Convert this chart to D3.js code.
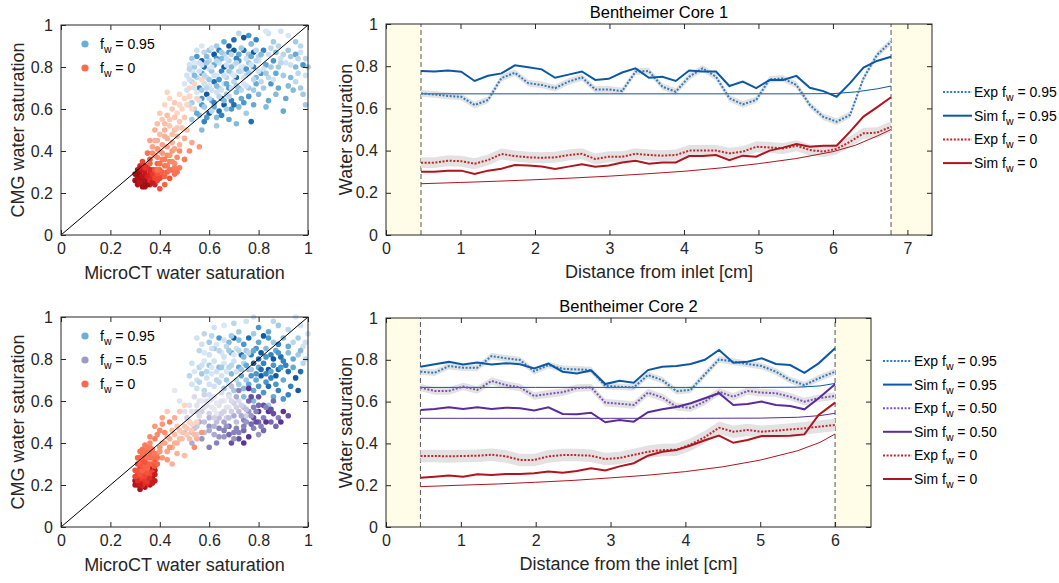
<!DOCTYPE html>
<html>
<head>
<meta charset="utf-8">
<script src="https://cdn.jsdelivr.net/npm/d3@7"></script>
<style>
body { margin: 0; background: #fff; }
svg { font-family: "Liberation Sans", Arial, Helvetica, sans-serif; }
</style>
</head>
<body>
<svg id="fig" width="1059" height="583"></svg>
<script>
// ---- scatter data: [microCT Sw, CMG Sw, shade 0..1] ----
var core1Blue = [
 [0.76,0.95,0.6],[0.84,0.96,0.1],[0.89,0.97,0.1],[0.72,0.96,0.2],[0.83,0.97,0.05],
 [0.63,0.9,0.3],[0.66,0.92,0.5],[0.7,0.93,0.8],[0.74,0.94,0.9],[0.79,0.93,0.7],[0.86,0.92,0.3],[0.88,0.9,0.2],[0.95,0.92,0.3],[0.68,0.9,0.9],[0.77,0.91,0.4],
 [0.55,0.85,0.6],[0.58,0.87,0.2],[0.6,0.88,0.3],[0.62,0.86,0.9],[0.64,0.88,0.7],[0.66,0.86,0.2],[0.68,0.87,0.6],[0.7,0.88,0.9],[0.72,0.86,0.5],[0.74,0.88,0.8],
 [0.76,0.86,0.3],[0.78,0.87,0.9],[0.8,0.85,0.2],[0.82,0.88,0.7],[0.84,0.86,0.1],[0.87,0.87,0.4],[0.9,0.86,0.2],[0.93,0.85,0.3],[0.97,0.87,0.1],[0.99,0.84,0.2],[0.57,0.83,0.9],
 [0.52,0.81,0.1],[0.54,0.8,0.3],[0.56,0.82,0.1],[0.58,0.8,0.8],[0.6,0.83,0.2],[0.62,0.81,0.5],[0.64,0.82,0.1],[0.66,0.8,0.9],[0.68,0.83,0.2],[0.7,0.81,0.05],
 [0.72,0.83,0.6],[0.74,0.8,0.1],[0.76,0.82,0.3],[0.78,0.8,0.7],[0.8,0.83,0.1],[0.83,0.81,0.5],[0.86,0.83,0.6],[0.88,0.8,0.3],[0.91,0.82,0.1],[0.95,0.8,0.4],[0.98,0.81,0.6],[0.6,0.79,0.1],[0.65,0.84,0.4],
 [0.51,0.76,0.1],[0.53,0.78,0.05],[0.55,0.75,0.2],[0.57,0.77,0.6],[0.59,0.75,0.1],[0.61,0.78,0.3],[0.63,0.76,0.05],[0.65,0.78,0.7],[0.67,0.75,0.2],[0.69,0.77,0.05],
 [0.71,0.75,0.8],[0.73,0.78,0.1],[0.75,0.76,0.2],[0.77,0.78,0.05],[0.79,0.75,0.4],[0.81,0.77,0.6],[0.84,0.75,0.2],[0.87,0.77,0.5],[0.9,0.76,0.3],[0.93,0.75,0.4],[0.96,0.77,0.2],[0.99,0.76,0.1],
 [0.5,0.72,0.05],[0.53,0.73,0.2],[0.56,0.7,0.7],[0.58,0.72,0.1],[0.6,0.71,0.05],[0.62,0.73,0.8],[0.64,0.7,0.2],[0.66,0.72,0.1],[0.68,0.7,0.6],[0.7,0.73,0.2],
 [0.72,0.7,0.4],[0.74,0.72,0.05],[0.76,0.7,0.3],[0.79,0.72,0.5],[0.82,0.7,0.3],[0.85,0.72,0.6],[0.88,0.7,0.5],[0.92,0.71,0.4],[0.97,0.7,0.3],
 [0.52,0.66,0.2],[0.55,0.68,0.05],[0.57,0.65,0.6],[0.59,0.67,0.9],[0.61,0.64,0.5],[0.63,0.68,0.1],[0.65,0.65,0.9],[0.67,0.67,0.3],[0.69,0.64,0.7],[0.71,0.68,0.4],
 [0.73,0.65,0.5],[0.76,0.66,0.6],[0.8,0.67,0.4],[0.84,0.64,0.5],[0.87,0.67,0.4],[0.91,0.65,0.5],[0.98,0.67,0.3],
 [0.54,0.6,0.2],[0.57,0.62,0.6],[0.6,0.58,0.9],[0.62,0.61,0.5],[0.64,0.59,0.8],[0.66,0.62,0.9],[0.69,0.6,0.6],[0.72,0.61,0.4],[0.75,0.58,0.3],[0.78,0.62,0.5],
 [0.83,0.61,0.4],[0.9,0.59,0.5],[0.99,0.62,0.3],[0.56,0.57,0.4],
 [0.53,0.55,0.3],[0.58,0.54,0.7],[0.63,0.56,0.4],[0.68,0.55,0.5],[0.71,0.53,0.4],[0.77,0.54,0.8],[0.63,0.52,0.3],[0.57,0.5,0.4],
 [0.95,0.86,0.5],[0.97,0.9,0.2],[1.0,0.8,0.3],[0.92,0.95,0.05],
 [0.53,0.84,0.3],[0.55,0.88,0.1],[0.57,0.9,0.05],[0.59,0.85,0.4],[0.61,0.89,0.1],[0.63,0.84,0.6],[0.65,0.87,0.3],[0.67,0.84,0.1],[0.69,0.86,0.2],[0.71,0.84,0.7],
 [0.73,0.89,0.3],[0.75,0.84,0.1],[0.77,0.85,0.5],[0.79,0.88,0.2],[0.81,0.86,0.4],[0.85,0.89,0.2],[0.89,0.84,0.1],[0.92,0.88,0.3],[0.96,0.84,0.2],
 [0.52,0.79,0.2],[0.54,0.82,0.05],[0.57,0.81,0.1],[0.59,0.82,0.3],[0.61,0.8,0.05],[0.63,0.83,0.2],[0.67,0.81,0.1],[0.69,0.8,0.4],[0.71,0.82,0.2],[0.73,0.8,0.05],
 [0.75,0.79,0.6],[0.77,0.81,0.1],[0.79,0.83,0.2],[0.82,0.79,0.1],[0.85,0.8,0.3],[0.89,0.82,0.2],[0.93,0.81,0.1],
 [0.52,0.74,0.1],[0.54,0.76,0.4],[0.56,0.78,0.1],[0.58,0.76,0.2],[0.6,0.74,0.3],[0.62,0.76,0.1],[0.64,0.74,0.6],[0.66,0.76,0.1],[0.68,0.78,0.3],[0.7,0.76,0.05],
 [0.72,0.78,0.2],[0.74,0.75,0.1],[0.76,0.77,0.3],[0.78,0.74,0.2],[0.8,0.78,0.1],[0.83,0.77,0.3],[0.86,0.74,0.1],[0.95,0.73,0.2],
 [0.51,0.69,0.1],[0.54,0.7,0.05],[0.57,0.69,0.3],[0.59,0.7,0.2],[0.61,0.69,0.1],[0.63,0.71,0.4],[0.65,0.69,0.1],[0.67,0.72,0.5],[0.69,0.7,0.1],[0.71,0.71,0.3],
 [0.73,0.69,0.2],[0.75,0.71,0.1],[0.78,0.69,0.3],[0.81,0.73,0.2],[0.94,0.69,0.4],
 [0.53,0.63,0.3],[0.56,0.64,0.1],[0.58,0.61,0.3],[0.6,0.65,0.2],[0.62,0.63,0.7],[0.64,0.66,0.2],[0.66,0.64,0.4],[0.68,0.66,0.2],[0.7,0.62,0.8],[0.74,0.63,0.6],
 [0.55,0.58,0.5],[0.59,0.56,0.6],[0.61,0.59,0.2],[0.65,0.57,0.7],[0.67,0.6,0.3],[0.52,0.62,0.2]
];
var core1Red = [
 [0.3,0.26,0.95],[0.31,0.24,0.9],[0.32,0.27,0.95],[0.32,0.3,0.9],[0.33,0.25,0.95],[0.33,0.28,0.85],[0.34,0.23,0.9],[0.34,0.3,0.8],[0.35,0.26,0.85],[0.35,0.32,0.7],
 [0.36,0.24,0.8],[0.36,0.29,0.75],[0.37,0.27,0.7],[0.31,0.31,0.85],[0.3,0.29,0.9],[0.32,0.33,0.7],[0.38,0.24,0.75],[0.37,0.31,0.6],[0.33,0.35,0.6],[0.34,0.33,0.75],
 [0.38,0.29,0.55],[0.39,0.26,0.6],[0.4,0.31,0.5],[0.41,0.28,0.55],[0.42,0.33,0.45],[0.43,0.3,0.5],[0.44,0.27,0.55],[0.45,0.31,0.45],[0.39,0.34,0.5],[0.41,0.36,0.4],
 [0.36,0.36,0.55],[0.38,0.38,0.4],[0.44,0.35,0.4],[0.46,0.34,0.35],[0.43,0.38,0.35],[0.47,0.37,0.35],[0.4,0.4,0.3],[0.45,0.4,0.3],[0.48,0.4,0.35],[0.35,0.39,0.45],
 [0.42,0.24,0.5],[0.46,0.29,0.45],[0.48,0.32,0.4],[0.4,0.22,0.55],[0.5,0.36,0.4],[0.52,0.4,0.35],
 [0.37,0.42,0.25],[0.39,0.45,0.2],[0.41,0.43,0.25],[0.43,0.46,0.2],[0.45,0.44,0.2],[0.47,0.47,0.15],[0.4,0.48,0.15],[0.42,0.5,0.2],[0.44,0.52,0.1],[0.46,0.5,0.15],
 [0.48,0.54,0.1],[0.38,0.5,0.2],[0.41,0.55,0.1],[0.43,0.57,0.15],[0.45,0.6,0.1],[0.47,0.58,0.05],[0.49,0.6,0.05],[0.5,0.56,0.1],[0.4,0.58,0.1],[0.42,0.62,0.05],
 [0.44,0.65,0.05],[0.46,0.63,0.1],[0.48,0.67,0.05],[0.5,0.65,0.05],[0.52,0.7,0.05],[0.54,0.72,0.05],[0.51,0.5,0.15],[0.53,0.6,0.05],[0.55,0.65,0.05],[0.57,0.74,0.05],
 [0.5,0.46,0.2],[0.53,0.44,0.25],[0.36,0.45,0.25],[0.43,0.68,0.05],[0.56,0.42,0.3],
 [0.31,0.27,0.9],[0.31,0.29,0.95],[0.32,0.25,0.85],[0.33,0.23,0.95],[0.33,0.31,0.8],[0.34,0.26,0.9],[0.34,0.28,0.85],[0.35,0.24,0.95],[0.35,0.28,0.75],[0.36,0.26,0.7],
 [0.36,0.31,0.7],[0.37,0.25,0.8],[0.37,0.29,0.65],[0.38,0.27,0.6],[0.38,0.31,0.55],[0.39,0.29,0.55],[0.39,0.31,0.45],[0.32,0.32,0.8],[0.34,0.32,0.65],[0.36,0.34,0.5],
 [0.4,0.27,0.6],[0.4,0.34,0.45],[0.41,0.3,0.5],[0.42,0.28,0.5],[0.42,0.36,0.4],[0.43,0.33,0.4],[0.44,0.31,0.45],[0.44,0.38,0.3],[0.45,0.35,0.35],[0.46,0.32,0.4],
 [0.47,0.3,0.45],[0.39,0.37,0.35],[0.37,0.39,0.35],[0.41,0.39,0.3],[0.43,0.42,0.25],[0.46,0.41,0.25],[0.48,0.43,0.2],[0.39,0.41,0.3],[0.38,0.45,0.2],[0.42,0.47,0.2],
 [0.45,0.48,0.15],[0.47,0.51,0.1],[0.44,0.55,0.1],[0.46,0.56,0.1],[0.48,0.62,0.05],[0.51,0.62,0.05],[0.39,0.53,0.15],[0.42,0.53,0.15],[0.49,0.51,0.1],[0.52,0.66,0.05]
];
var core2Blue = [
 [0.55,0.9,0.1],[0.58,0.92,0.2],[0.62,0.95,0.1],[0.66,0.96,0.05],[0.7,0.97,0.2],[0.75,0.98,0.1],[0.78,1.0,0.1],[0.86,0.98,0.2],[0.95,1.0,0.05],[0.72,0.93,0.3],
 [0.8,0.95,0.6],[0.84,0.93,0.5],[0.88,0.96,0.3],[0.92,0.94,0.2],[0.97,0.96,0.1],[1.0,0.92,0.1],
 [0.6,0.88,0.3],[0.64,0.9,0.6],[0.68,0.88,0.4],[0.7,0.9,0.9],[0.74,0.87,0.6],[0.76,0.9,0.8],[0.8,0.88,0.5],[0.82,0.91,0.9],[0.86,0.88,0.3],[0.9,0.9,0.4],[0.94,0.88,0.2],[0.98,0.86,0.1],
 [0.56,0.84,0.2],[0.6,0.82,0.1],[0.62,0.85,0.3],[0.65,0.83,0.05],[0.67,0.86,0.2],[0.69,0.83,0.5],[0.71,0.85,0.1],[0.73,0.82,0.8],[0.75,0.84,0.3],[0.77,0.82,0.7],
 [0.79,0.85,0.6],[0.81,0.83,0.9],[0.83,0.85,0.4],[0.85,0.82,0.7],[0.87,0.84,0.5],[0.89,0.81,0.8],[0.92,0.83,0.4],[0.96,0.82,0.3],[0.99,0.8,0.2],
 [0.53,0.78,0.1],[0.56,0.76,0.2],[0.58,0.79,0.05],[0.6,0.77,0.3],[0.62,0.79,0.1],[0.64,0.76,0.4],[0.66,0.78,0.05],[0.68,0.76,0.2],[0.7,0.79,0.1],[0.72,0.76,0.5],
 [0.74,0.78,0.2],[0.76,0.75,0.4],[0.78,0.78,0.9],[0.8,0.76,0.5],[0.82,0.78,0.7],[0.84,0.75,0.9],[0.86,0.77,0.6],[0.88,0.75,0.8],[0.91,0.77,0.7],[0.94,0.76,0.5],[0.97,0.74,0.8],
 [0.52,0.72,0.2],[0.55,0.7,0.1],[0.57,0.73,0.3],[0.59,0.71,0.1],[0.61,0.73,0.05],[0.63,0.7,0.2],[0.65,0.72,0.1],[0.67,0.7,0.3],[0.69,0.73,0.4],[0.71,0.7,0.2],
 [0.73,0.72,0.5],[0.75,0.7,0.3],[0.77,0.72,0.6],[0.79,0.7,0.5],[0.81,0.72,0.9],[0.83,0.69,0.6],[0.85,0.71,0.7],[0.87,0.68,0.6],[0.9,0.7,0.5],[0.93,0.67,0.7],[0.95,0.71,0.9],
 [0.55,0.66,0.1],[0.58,0.65,0.2],[0.62,0.67,0.1],[0.66,0.66,0.3],[0.7,0.65,0.3],[0.74,0.66,0.4],[0.78,0.65,0.5],[0.82,0.64,0.6],[0.86,0.62,0.5],[0.9,0.61,0.6],
 [0.92,0.63,0.7],[0.78,0.6,0.4],[0.84,0.58,0.3],[0.99,0.88,0.1],[0.98,0.78,0.2],[0.96,0.9,0.3],
 [0.57,0.87,0.1],[0.61,0.91,0.2],[0.63,0.87,0.05],[0.66,0.89,0.1],[0.69,0.91,0.3],[0.72,0.89,0.4],[0.78,0.92,0.3],[0.84,0.9,0.6],[0.88,0.87,0.7],[0.92,0.86,0.5],
 [0.58,0.83,0.05],[0.61,0.85,0.1],[0.64,0.84,0.2],[0.66,0.81,0.1],[0.68,0.84,0.3],[0.7,0.82,0.05],[0.72,0.84,0.2],[0.74,0.81,0.4],[0.76,0.83,0.2],[0.78,0.84,0.5],
 [0.8,0.8,0.8],[0.83,0.81,0.6],[0.86,0.8,0.9],[0.88,0.83,0.6],[0.9,0.79,0.7],[0.94,0.8,0.5],[0.97,0.84,0.4],
 [0.54,0.74,0.05],[0.57,0.77,0.1],[0.59,0.74,0.2],[0.61,0.76,0.05],[0.63,0.74,0.1],[0.65,0.76,0.3],[0.67,0.74,0.05],[0.69,0.77,0.2],[0.71,0.74,0.1],
 [0.73,0.75,0.3],[0.75,0.77,0.5],[0.77,0.75,0.3],[0.79,0.73,0.6],[0.81,0.75,0.8],[0.83,0.73,0.7],[0.85,0.74,0.5],[0.87,0.72,0.9],[0.89,0.76,0.6],[0.92,0.74,0.8],
 [0.56,0.69,0.2],[0.6,0.68,0.1],[0.64,0.69,0.2],[0.68,0.68,0.1],[0.72,0.68,0.3],[0.76,0.68,0.5],[0.8,0.67,0.6],[0.84,0.67,0.8],[0.88,0.65,0.7],[0.53,0.68,0.1],
 [0.6,0.63,0.1],[0.68,0.63,0.2],[0.74,0.62,0.4],[0.96,0.65,0.9]
];
var core2Purple = [
 [0.5,0.55,0.1],[0.52,0.58,0.1],[0.54,0.62,0.15],[0.55,0.55,0.2],[0.56,0.6,0.1],[0.58,0.63,0.2],[0.58,0.57,0.1],[0.6,0.6,0.05],[0.6,0.54,0.2],[0.62,0.62,0.1],
 [0.62,0.56,0.05],[0.64,0.58,0.1],[0.64,0.52,0.3],[0.66,0.6,0.05],[0.66,0.55,0.2],[0.68,0.62,0.1],[0.68,0.57,0.05],[0.7,0.59,0.2],[0.7,0.53,0.4],[0.72,0.6,0.15],
 [0.72,0.55,0.3],[0.74,0.57,0.3],[0.74,0.51,0.6],[0.76,0.55,0.5],[0.76,0.6,0.7],[0.78,0.52,0.8],[0.78,0.57,0.6],[0.8,0.55,0.9],[0.8,0.5,0.7],[0.82,0.58,0.8],
 [0.82,0.52,0.6],[0.84,0.55,0.9],[0.85,0.5,0.7],[0.88,0.52,0.6],[0.9,0.55,0.9],[0.92,0.53,0.8],[0.86,0.6,0.7],[0.8,0.62,0.8],[0.76,0.66,0.9],[0.72,0.65,0.6],
 [0.52,0.5,0.2],[0.54,0.47,0.3],[0.56,0.5,0.4],[0.58,0.45,0.3],[0.6,0.48,0.5],[0.62,0.44,0.4],[0.64,0.47,0.6],[0.66,0.43,0.5],[0.68,0.48,0.7],[0.7,0.45,0.6],
 [0.72,0.42,0.8],[0.74,0.46,0.7],[0.76,0.43,0.9],[0.78,0.47,0.6],[0.8,0.44,0.5],[0.57,0.42,0.5],[0.63,0.4,0.6],[0.69,0.4,0.8],[0.74,0.4,0.9],[0.82,0.46,0.7],
 [0.55,0.44,0.2],[0.6,0.52,0.35],[0.66,0.5,0.45],[0.71,0.5,0.3],[0.63,0.54,0.05],[0.67,0.52,0.2],[0.75,0.53,0.2],[0.59,0.6,0.1],[0.65,0.64,0.15],[0.69,0.67,0.3],
 [0.48,0.6,0.1],[0.46,0.65,0.05],[0.5,0.45,0.3],[0.53,0.4,0.4],[0.6,0.38,0.6],
 [0.51,0.52,0.2],[0.53,0.55,0.1],[0.55,0.58,0.1],[0.57,0.55,0.2],[0.57,0.6,0.05],[0.59,0.58,0.1],[0.61,0.57,0.05],[0.61,0.61,0.1],[0.63,0.59,0.05],[0.63,0.5,0.3],
 [0.65,0.54,0.2],[0.65,0.6,0.1],[0.67,0.57,0.1],[0.67,0.48,0.5],[0.69,0.55,0.2],[0.69,0.6,0.15],[0.71,0.57,0.2],[0.71,0.47,0.6],[0.73,0.53,0.4],[0.73,0.58,0.2],
 [0.75,0.5,0.5],[0.75,0.56,0.3],[0.77,0.49,0.7],[0.77,0.53,0.5],[0.79,0.55,0.6],[0.79,0.5,0.8],[0.81,0.48,0.6],[0.83,0.5,0.9],[0.83,0.57,0.6],[0.86,0.54,0.8],
 [0.87,0.48,0.7],[0.89,0.5,0.9],[0.58,0.5,0.3],[0.6,0.46,0.4],[0.62,0.48,0.35],[0.64,0.43,0.5],[0.66,0.46,0.6],[0.68,0.44,0.7],[0.7,0.42,0.5],[0.72,0.45,0.6],
 [0.55,0.48,0.25],[0.53,0.45,0.3],[0.56,0.53,0.15],[0.62,0.52,0.2],[0.68,0.52,0.3],[0.74,0.48,0.6],[0.8,0.58,0.7],[0.77,0.62,0.8],[0.71,0.62,0.4],[0.85,0.56,0.8]
];
var core2Red = [
 [0.3,0.22,0.9],[0.31,0.2,0.95],[0.32,0.18,0.9],[0.33,0.22,0.85],[0.34,0.19,0.9],[0.35,0.24,0.8],[0.36,0.2,0.85],[0.37,0.23,0.9],[0.38,0.27,0.85],[0.36,0.28,0.8],
 [0.31,0.25,0.6],[0.32,0.28,0.6],[0.33,0.25,0.55],[0.34,0.27,0.6],[0.35,0.3,0.55],[0.33,0.31,0.55],[0.31,0.3,0.6],[0.32,0.33,0.5],[0.34,0.34,0.45],[0.36,0.33,0.5],
 [0.35,0.36,0.45],[0.33,0.37,0.45],[0.34,0.39,0.4],[0.36,0.38,0.4],[0.37,0.35,0.5],[0.38,0.32,0.55],[0.32,0.23,0.6],[0.34,0.22,0.65],[0.36,0.25,0.6],[0.3,0.27,0.55],
 [0.35,0.21,0.7],[0.33,0.2,0.7],[0.37,0.3,0.5],[0.3,0.2,0.85],[0.38,0.22,0.8],
 [0.39,0.35,0.35],[0.4,0.38,0.3],[0.41,0.33,0.3],[0.42,0.4,0.25],[0.43,0.36,0.25],[0.44,0.42,0.2],[0.45,0.38,0.2],[0.46,0.44,0.15],[0.47,0.4,0.2],[0.48,0.46,0.1],
 [0.49,0.42,0.15],[0.5,0.48,0.1],[0.51,0.44,0.1],[0.52,0.5,0.05],[0.53,0.46,0.1],[0.55,0.5,0.05],[0.42,0.45,0.35],[0.44,0.5,0.4],[0.46,0.52,0.2],[0.48,0.55,0.1],
 [0.5,0.58,0.05],[0.4,0.46,0.35],[0.38,0.42,0.4],[0.43,0.32,0.3],[0.47,0.35,0.2],[0.55,0.42,0.2],[0.57,0.45,0.3],[0.54,0.38,0.35],[0.45,0.3,0.2],[0.5,0.34,0.15],
 [0.43,0.55,0.1],[0.38,0.48,0.3],[0.41,0.52,0.25],
 [0.31,0.22,0.7],[0.31,0.27,0.55],[0.32,0.2,0.8],[0.32,0.25,0.55],[0.32,0.3,0.5],[0.33,0.27,0.5],[0.33,0.29,0.55],[0.33,0.33,0.5],[0.34,0.24,0.6],[0.34,0.29,0.5],
 [0.34,0.31,0.55],[0.34,0.36,0.45],[0.35,0.22,0.65],[0.35,0.26,0.55],[0.35,0.28,0.5],[0.35,0.33,0.45],[0.35,0.38,0.4],[0.36,0.23,0.7],[0.36,0.3,0.5],[0.36,0.35,0.45],
 [0.37,0.21,0.8],[0.37,0.26,0.6],[0.37,0.33,0.45],[0.37,0.37,0.4],[0.38,0.25,0.8],[0.38,0.29,0.55],[0.38,0.35,0.4],[0.33,0.35,0.45],[0.32,0.36,0.45],[0.36,0.4,0.35],
 [0.3,0.24,0.6],[0.31,0.33,0.5],[0.39,0.3,0.5],[0.39,0.33,0.45],[0.4,0.36,0.3],[0.41,0.4,0.25],[0.43,0.43,0.2],[0.44,0.38,0.3],[0.46,0.4,0.2],[0.48,0.42,0.15],
 [0.49,0.45,0.1],[0.51,0.47,0.1],[0.53,0.49,0.05],[0.47,0.48,0.1],[0.45,0.46,0.15],[0.52,0.42,0.15],[0.54,0.44,0.15],[0.39,0.44,0.35],[0.36,0.43,0.35],[0.41,0.49,0.3]
];

// ---- saturation profiles ----
var core1X = [0.47,0.65,0.83,1.01,1.19,1.37,1.55,1.73,1.91,2.09,2.27,2.45,2.63,2.81,2.99,3.17,3.35,3.53,
              3.71,3.89,4.07,4.25,4.43,4.61,4.79,4.97,5.15,5.33,5.51,5.69,5.87,6.05,6.23,6.41,6.59,6.78];
var core1SimHigh = [0.777,0.775,0.78,0.774,0.73,0.755,0.766,0.804,0.795,0.785,0.745,0.76,0.775,0.735,0.74,0.77,0.79,0.745,
                    0.75,0.73,0.78,0.775,0.775,0.706,0.727,0.696,0.735,0.735,0.754,0.698,0.682,0.655,0.72,0.793,0.825,0.845];
var core1ExpHigh = [0.671,0.666,0.659,0.655,0.616,0.64,0.744,0.769,0.72,0.711,0.696,0.727,0.747,0.69,0.69,0.682,0.774,0.777,
                    0.703,0.679,0.75,0.79,0.75,0.648,0.619,0.64,0.738,0.742,0.711,0.616,0.56,0.537,0.569,0.742,0.853,0.916];
var core1ExpZero = [0.343,0.343,0.352,0.35,0.338,0.355,0.384,0.374,0.368,0.366,0.368,0.379,0.385,0.36,0.371,0.371,0.385,0.379,
                    0.376,0.379,0.40,0.40,0.40,0.387,0.395,0.418,0.415,0.41,0.423,0.403,0.395,0.408,0.442,0.482,0.485,0.513];
var core1SimZero = [0.30,0.30,0.305,0.305,0.289,0.305,0.314,0.332,0.329,0.325,0.313,0.324,0.335,0.324,0.329,0.344,0.352,0.338,
                    0.344,0.344,0.374,0.374,0.379,0.355,0.376,0.371,0.40,0.414,0.431,0.418,0.423,0.423,0.49,0.561,0.605,0.653];
var core1ModelHighX = [0.47,1,2,3,4,5,5.5,6,6.3,6.6,6.78];
var core1ModelHigh = [0.669,0.669,0.669,0.669,0.669,0.669,0.669,0.67,0.678,0.693,0.706];
var core1ModelZeroX = [0.47,1,1.5,2,2.5,3,3.5,4,4.5,5,5.5,6,6.3,6.6,6.78];
var core1ModelZero = [0.243,0.249,0.255,0.262,0.27,0.279,0.29,0.302,0.318,0.338,0.362,0.395,0.425,0.47,0.50];

var core2X = [0.46,0.65,0.84,1.03,1.22,1.41,1.6,1.79,1.98,2.17,2.36,2.55,2.74,2.93,3.12,
              3.31,3.5,3.69,3.88,4.07,4.26,4.45,4.64,4.83,5.02,5.21,5.4,5.59,5.78,6.0];
var core2SimHigh = [0.767,0.779,0.79,0.777,0.787,0.777,0.784,0.779,0.759,0.782,0.743,0.735,0.749,0.684,0.70,
                    0.69,0.751,0.767,0.77,0.78,0.80,0.847,0.786,0.791,0.807,0.78,0.775,0.738,0.783,0.855];
var core2ExpHigh = [0.743,0.738,0.77,0.762,0.762,0.818,0.807,0.799,0.745,0.775,0.757,0.754,0.751,0.675,0.671,
                    0.668,0.727,0.703,0.65,0.656,0.73,0.802,0.791,0.78,0.77,0.743,0.703,0.679,0.711,0.743];
var core2ExpHalf = [0.667,0.651,0.651,0.672,0.656,0.699,0.679,0.668,0.627,0.637,0.645,0.665,0.668,0.595,0.59,
                    0.584,0.643,0.62,0.576,0.57,0.60,0.647,0.623,0.651,0.643,0.64,0.623,0.60,0.616,0.627];
var core2SimHalf = [0.56,0.565,0.573,0.565,0.573,0.565,0.571,0.568,0.557,0.573,0.541,0.539,0.547,0.501,0.512,
                    0.504,0.549,0.563,0.574,0.592,0.616,0.64,0.584,0.589,0.60,0.584,0.579,0.563,0.616,0.683];
var core2ExpZero = [0.34,0.34,0.338,0.34,0.341,0.346,0.338,0.321,0.321,0.338,0.344,0.344,0.341,0.325,0.33,
                    0.345,0.36,0.368,0.37,0.395,0.43,0.475,0.456,0.464,0.456,0.461,0.467,0.472,0.48,0.488];
var core2SimZero = [0.236,0.241,0.246,0.241,0.252,0.249,0.254,0.254,0.257,0.266,0.26,0.268,0.281,0.27,0.29,
                    0.305,0.341,0.36,0.368,0.39,0.415,0.437,0.403,0.416,0.435,0.435,0.437,0.443,0.536,0.595];
var core2ModelHighX = [0.46,1,2,3,4,5,5.5,5.8,6.0];
var core2ModelHigh = [0.668,0.668,0.668,0.668,0.668,0.668,0.669,0.675,0.687];
var core2ModelHalfX = [0.46,1,2,3,4,5,5.5,5.8,6.0];
var core2ModelHalf = [0.52,0.52,0.52,0.52,0.52,0.521,0.525,0.533,0.544];
var core2ModelZeroX = [0.46,1,1.5,2,2.5,3,3.5,4,4.5,5,5.5,5.8,6.0];
var core2ModelZero = [0.193,0.2,0.206,0.214,0.223,0.235,0.248,0.265,0.288,0.32,0.365,0.405,0.445];

var satTicks = [0, 0.2, 0.4, 0.6, 0.8, 1];

var svg = d3.select("#fig");
var axisColor = "#262626";

function satFormat(d) { return (d === 0 || d === 1) ? String(d) : d.toFixed(1); }

function frame(g, x, y, xTicks, yTicks, xFmt, yFmt) {
    var x0 = x.range()[0], x1 = x.range()[1], y0 = y.range()[0], y1 = y.range()[1];
    g.append("g").attr("transform", "translate(0," + y0 + ")")
        .call(d3.axisBottom(x).tickValues(xTicks).tickSize(-5).tickPadding(8).tickFormat(xFmt));
    g.append("g").attr("transform", "translate(0," + y1 + ")")
        .call(d3.axisTop(x).tickValues(xTicks).tickSize(-5).tickFormat(""));
    g.append("g").attr("transform", "translate(" + x0 + ",0)")
        .call(d3.axisLeft(y).tickValues(yTicks).tickSize(-5).tickPadding(8).tickFormat(yFmt));
    g.append("g").attr("transform", "translate(" + x1 + ",0)")
        .call(d3.axisRight(y).tickValues(yTicks).tickSize(-5).tickFormat(""));
    g.selectAll(".domain").remove();
    g.selectAll(".tick line").attr("stroke", axisColor);
    g.selectAll(".tick text").attr("fill", axisColor).attr("font-size", 16)
        .attr("font-family", "Liberation Sans, Arial, sans-serif");
    g.append("rect").attr("x", x0).attr("y", y1).attr("width", x1 - x0).attr("height", y0 - y1)
        .attr("fill", "none").attr("stroke", axisColor).attr("stroke-width", 1);
}

// text with a subscript w:  before + "f" + w + after
function subText(sel, before, after, size) {
    sel.append("tspan").text(before + "f");
    sel.append("tspan").attr("dy", 4).attr("font-size", size * 0.75).text("w");
    sel.append("tspan").attr("dy", -4).text(after);
}

function scatterPanel(top, groups, legend) {
    var g = svg.append("g");
    var x = d3.scaleLinear().domain([0, 1]).range([61, 308]);
    var y = d3.scaleLinear().domain([0, 1]).range([top + 210, top]);

    groups.forEach(function (grp) {
        g.append("g").selectAll("circle").data(grp.pts).enter().append("circle")
            .attr("cx", function (d) { return x(d[0]); })
            .attr("cy", function (d) { return y(d[1]); })
            .attr("r", 2.8)
            .attr("fill", function (d) { return grp.scheme(0.12 + 0.8 * d[2]); });
    });

    g.append("line").attr("x1", x(0)).attr("y1", y(0)).attr("x2", x(1)).attr("y2", y(1))
        .attr("stroke", "#000").attr("stroke-width", 1);

    frame(g, x, y, satTicks, satTicks, satFormat, satFormat);

    legend.forEach(function (item, i) {
        var ly = top + 19 + i * 24;
        g.append("circle").attr("cx", 85).attr("cy", ly).attr("r", 3.6).attr("fill", item.color);
        var t = g.append("text").attr("x", 100).attr("y", ly + 5).attr("font-size", 14).attr("fill", "#000");
        subText(t, "", " = " + item.value, 14);
    });

    g.append("text").attr("x", 184.5).attr("y", top + 254).attr("text-anchor", "middle")
        .attr("font-size", 18).attr("fill", axisColor).text("MicroCT water saturation");
    g.append("text").attr("transform", "translate(24," + (top + 105) + ") rotate(-90)")
        .attr("text-anchor", "middle").attr("font-size", 18).attr("fill", axisColor).text("CMG water saturation");
}

function profilePanel(p) {
    var g = svg.append("g");
    var x = d3.scaleLinear().domain([0, p.xMax]).range([386, p.right]);
    var y = d3.scaleLinear().domain([0, 1]).range([p.top + p.h, p.top]);

    // end pieces
    g.append("rect").attr("x", x(0)).attr("y", y(1)).attr("width", x(p.inlet) - x(0)).attr("height", p.h)
        .attr("fill", "#fffde8");
    g.append("rect").attr("x", x(p.outlet)).attr("y", y(1)).attr("width", x(p.xMax) - x(p.outlet)).attr("height", p.h)
        .attr("fill", "#fffde8");
    [p.inlet, p.outlet].forEach(function (v) {
        g.append("line").attr("x1", x(v)).attr("x2", x(v)).attr("y1", y(0)).attr("y2", y(1))
            .attr("stroke", "#555").attr("stroke-width", 1).attr("stroke-dasharray", "5,3");
    });

    var area = d3.area()
        .x(function (d) { return x(d[0]); })
        .y0(function (d) { return y(d[1] - d[2]); })
        .y1(function (d) { return y(d[1] + d[2]); });
    var line = d3.line()
        .x(function (d) { return x(d[0]); })
        .y(function (d) { return y(d[1]); });

    p.exp.forEach(function (s) {
        g.append("path").datum(p.xs.map(function (v, i) { return [v, s.vals[i], s.band]; }))
            .attr("d", area).attr("fill", "#e2e2e2");
    });
    p.model.forEach(function (s) {
        g.append("path").datum(s.xs.map(function (v, i) { return [v, s.vals[i]]; }))
            .attr("d", line).attr("fill", "none").attr("stroke", s.color).attr("stroke-width", 1);
    });
    p.exp.forEach(function (s) {
        g.append("path").datum(p.xs.map(function (v, i) { return [v, s.vals[i]]; }))
            .attr("d", line).attr("fill", "none").attr("stroke", s.color).attr("stroke-width", 2)
            .attr("stroke-dasharray", "2,1.6");
    });
    p.sim.forEach(function (s) {
        g.append("path").datum(p.xs.map(function (v, i) { return [v, s.vals[i]]; }))
            .attr("d", line).attr("fill", "none").attr("stroke", s.color).attr("stroke-width", 2);
    });

    frame(g, x, y, d3.range(0, Math.floor(p.xMax) + 1), satTicks, d3.format("d"), satFormat);

    g.append("text").attr("x", (386 + p.right) / 2).attr("y", p.top - 6).attr("text-anchor", "middle")
        .attr("font-size", 16.5).attr("fill", "#000").text(p.title);
    g.append("text").attr("x", (386 + p.right) / 2).attr("y", p.top + p.h + 43).attr("text-anchor", "middle")
        .attr("font-size", 18).attr("fill", axisColor).text(p.xLabel);
    g.append("text").attr("transform", "translate(352," + (p.top + p.h / 2) + ") rotate(-90)")
        .attr("text-anchor", "middle").attr("font-size", 18).attr("fill", axisColor).text("Water saturation");

    p.legend.forEach(function (item, i) {
        var ly = p.legendY + i * p.legendStep;
        g.append("line").attr("x1", p.legendX).attr("x2", p.legendX + 29).attr("y1", ly).attr("y2", ly)
            .attr("stroke", item.color).attr("stroke-width", 2)
            .attr("stroke-dasharray", item.dotted ? "2,1.6" : null);
        var t = g.append("text").attr("x", p.legendX + 31).attr("y", ly + 5).attr("font-size", 14).attr("fill", "#000");
        subText(t, item.kind + " ", " = " + item.value, 14);
    });
}

var blueHi = "#0b58a6", blueLo = "#2f7cc0";
var purpHi = "#5a2b9a", purpLo = "#7a55b6";
var redHi = "#b0141e", redLo = "#c9242c";

scatterPanel(25,
    [{ pts: core1Blue, scheme: d3.interpolateBlues }, { pts: core1Red, scheme: d3.interpolateReds }],
    [{ color: "#6baed6", value: "0.95" }, { color: "#fb6a4a", value: "0" }]);

scatterPanel(317,
    [{ pts: core2Blue, scheme: d3.interpolateBlues }, { pts: core2Purple, scheme: d3.interpolatePurples },
     { pts: core2Red, scheme: d3.interpolateReds }],
    [{ color: "#6baed6", value: "0.95" }, { color: "#9e9ac8", value: "0.5" }, { color: "#fb6a4a", value: "0" }]);

profilePanel({
    top: 24, h: 211, right: 932, xMax: 7.33, inlet: 0.47, outlet: 6.78,
    title: "Bentheimer Core 1", xLabel: "Distance from inlet [cm]",
    xs: core1X,
    exp: [{ vals: core1ExpHigh, color: blueLo, band: 0.016 }, { vals: core1ExpZero, color: redLo, band: 0.026 }],
    sim: [{ vals: core1SimHigh, color: blueHi }, { vals: core1SimZero, color: redHi }],
    model: [{ xs: core1ModelHighX, vals: core1ModelHigh, color: blueHi },
            { xs: core1ModelZeroX, vals: core1ModelZero, color: redHi }],
    legendX: 943, legendY: 92, legendStep: 23.7,
    legend: [{ kind: "Exp", value: "0.95", color: blueLo, dotted: true },
             { kind: "Sim", value: "0.95", color: blueHi },
             { kind: "Exp", value: "0", color: redLo, dotted: true },
             { kind: "Sim", value: "0", color: redHi }]
});

profilePanel({
    top: 318, h: 209, right: 871, xMax: 6.48, inlet: 0.46, outlet: 6.0,
    title: "Bentheimer Core 2", xLabel: "Distance from the inlet [cm]",
    xs: core2X,
    exp: [{ vals: core2ExpHigh, color: blueLo, band: 0.016 }, { vals: core2ExpHalf, color: purpLo, band: 0.018 },
          { vals: core2ExpZero, color: redLo, band: 0.03 }],
    sim: [{ vals: core2SimHigh, color: blueHi }, { vals: core2SimHalf, color: purpHi }, { vals: core2SimZero, color: redHi }],
    model: [{ xs: core2ModelHighX, vals: core2ModelHigh, color: blueHi },
            { xs: core2ModelHalfX, vals: core2ModelHalf, color: purpHi },
            { xs: core2ModelZeroX, vals: core2ModelZero, color: redHi }],
    legendX: 883, legendY: 361, legendStep: 23.6,
    legend: [{ kind: "Exp", value: "0.95", color: blueLo, dotted: true },
             { kind: "Sim", value: "0.95", color: blueHi },
             { kind: "Exp", value: "0.50", color: purpLo, dotted: true },
             { kind: "Sim", value: "0.50", color: purpHi },
             { kind: "Exp", value: "0", color: redLo, dotted: true },
             { kind: "Sim", value: "0", color: redHi }]
});
</script>
</body>
</html>
